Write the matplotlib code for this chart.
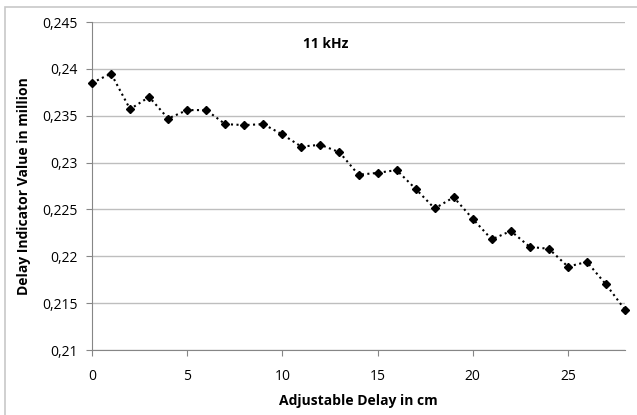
import matplotlib
matplotlib.use("Agg")
import matplotlib.pyplot as plt
from matplotlib.patches import Rectangle
from matplotlib.ticker import FuncFormatter

plt.rcParams['font.family'] = ['Open Sans', 'DejaVu Sans']

delay_cm = list(range(29))
indicator = [0.2385, 0.2395, 0.2357, 0.2370, 0.2347, 0.2356, 0.2356, 0.2341,
             0.2340, 0.2341, 0.2330, 0.2317, 0.2319, 0.2311, 0.2287, 0.2289,
             0.2292, 0.2272, 0.2251, 0.2263, 0.2240, 0.2218, 0.2227, 0.2210,
             0.2208, 0.2189, 0.2194, 0.2170, 0.2143]
yticks = [0.21, 0.215, 0.22, 0.225, 0.23, 0.235, 0.24, 0.245]
xticks = [0, 5, 10, 15, 20, 25]

W, H = 637, 415
fig = plt.figure(figsize=(W/100, H/100), dpi=100)
# outer chart frame
fig.patches.append(Rectangle((5/W, -0.05), 1.1, (H-7)/H + 0.05, transform=fig.transFigure,
                             fill=False, edgecolor="#c8c8c8", lw=1.2))

ax = fig.add_axes([92/W, (H-350)/H, 533/W, 328/H])
ax.plot(delay_cm, indicator, color="black", ls=":", lw=1.5,
        marker="D", markersize=4.5, zorder=3, clip_on=False)

ax.set_xlim(0, 28)
ax.set_ylim(0.21, 0.245)
ax.set_xticks(xticks)
ax.set_yticks(yticks)
ax.yaxis.set_major_formatter(FuncFormatter(lambda v, p: ("%g" % round(v, 3)).replace(".", ",")))
ax.grid(axis="y", color="#bebebe", lw=1)
ax.set_axisbelow(True)
for s in ["top", "right"]:
    ax.spines[s].set_visible(False)
for s in ["left", "bottom"]:
    ax.spines[s].set_color("#868686")
ax.tick_params(axis="both", colors="#868686", labelcolor="black", labelsize=10, length=4)
ax.tick_params(axis="x", pad=10)
ax.tick_params(axis="y", pad=6)

ax.set_xlabel("Adjustable Delay in cm", fontsize=10, fontweight="bold", labelpad=7)
ax.set_ylabel("Delay Indicator Value in million", fontsize=10, fontweight="bold", labelpad=8)
ax.text(12.3, 0.2427, "11 kHz", fontsize=10, fontweight="bold", ha="center", va="center")

fig.savefig("out.png", dpi=100)
